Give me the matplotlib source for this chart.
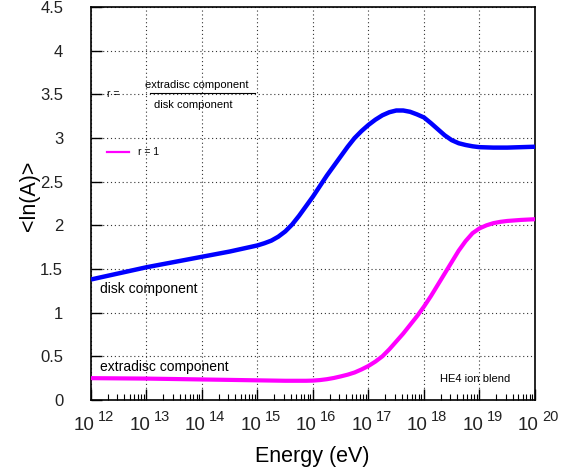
import matplotlib
matplotlib.use("Agg")
import matplotlib.pyplot as plt
import numpy as np
from matplotlib.ticker import LogLocator, MultipleLocator, NullFormatter, FuncFormatter

plt.rcParams['font.family'] = ['Liberation Sans', 'DejaVu Sans']

# mean log mass vs log10(E/eV)
disk_logE = [12.0, 12.5, 13.0, 13.5, 14.0, 14.5, 14.75, 15.0, 15.125, 15.25,
             15.375, 15.5, 15.625, 15.75, 15.875, 16.0, 16.125, 16.25, 16.375,
             16.5, 16.625, 16.75, 16.875, 17.0, 17.125, 17.25, 17.375, 17.5,
             17.625, 17.75, 17.875, 18.0, 18.125, 18.25, 18.375, 18.5, 18.625,
             18.75, 18.875, 19.0, 19.25, 19.5, 19.75, 20.0]
disk_lnA = [1.38, 1.45, 1.52, 1.58, 1.64, 1.70, 1.735, 1.77, 1.795, 1.825,
            1.87, 1.93, 2.01, 2.11, 2.22, 2.33, 2.45, 2.57, 2.68,
            2.79, 2.90, 3.00, 3.08, 3.15, 3.21, 3.26, 3.295, 3.315,
            3.315, 3.30, 3.27, 3.235, 3.17, 3.10, 3.03, 2.975, 2.94,
            2.92, 2.905, 2.895, 2.89, 2.89, 2.895, 2.90]

extra_logE = [12.0, 13.0, 14.0, 15.0, 15.5, 15.875, 16.0, 16.125, 16.25, 16.375,
              16.5, 16.625, 16.75, 16.875, 17.0, 17.125, 17.25, 17.375, 17.5,
              17.625, 17.75, 17.875, 18.0, 18.125, 18.25, 18.375, 18.5, 18.625,
              18.75, 18.875, 19.0, 19.125, 19.25, 19.375, 19.5, 19.75, 20.0]
extra_lnA = [0.25, 0.245, 0.235, 0.225, 0.22, 0.22, 0.222, 0.228, 0.238, 0.252,
             0.27, 0.29, 0.315, 0.35, 0.39, 0.44, 0.50, 0.58, 0.67,
             0.76, 0.86, 0.96, 1.07, 1.19, 1.32, 1.45, 1.58, 1.71,
             1.82, 1.91, 1.965, 2.00, 2.025, 2.04, 2.05, 2.062, 2.07]

decades = list(range(12, 21))

fig = plt.figure(figsize=(5.68, 4.67), dpi=100)
ax = fig.add_axes([0.1602, 0.1435, 0.7817, 0.8415])

ax.plot(10.0 ** np.array(disk_logE), disk_lnA, color='#0000ff', lw=3.2,
        solid_capstyle='butt', solid_joinstyle='round', zorder=3)
ax.plot(10.0 ** np.array(extra_logE), extra_lnA, color='#ff00ff', lw=3.0,
        solid_capstyle='butt', solid_joinstyle='round', zorder=3)

ax.set_xscale('log')
ax.set_xlim(1e12, 1e20)
ax.set_ylim(0, 4.5)
ax.set_xticks([10.0 ** k for k in decades])
ax.xaxis.set_major_formatter(NullFormatter())
ax.xaxis.set_minor_locator(LogLocator(base=10, subs=np.arange(2, 10), numticks=100))
ax.xaxis.set_minor_formatter(NullFormatter())
ax.yaxis.set_major_locator(MultipleLocator(0.5))
ax.yaxis.set_major_formatter(FuncFormatter(lambda v, p: f"{v:g}"))

# decade labels: "10" left of the tick, exponent raised to its right
for k in decades:
    ax.annotate('10', xy=(10.0 ** k, 0), xycoords=('data', 'axes fraction'),
                xytext=(4, -30), textcoords='offset pixels', ha='right',
                va='baseline', fontsize=13.5, color='#222222')
    ax.annotate(str(k), xy=(10.0 ** k, 0), xycoords=('data', 'axes fraction'),
                xytext=(7, -10), textcoords='offset pixels', ha='left',
                va='top', fontsize=10.5, color='#222222')

ax.grid(True, which='major', color='0.2', linestyle=(0, (1, 2.5)), lw=0.8)
ax.tick_params(axis='both', which='major', direction='in', length=8, width=1,
               top=False, right=False)
ax.tick_params(axis='x', which='minor', direction='in', length=4, width=0.8, top=False)
ax.tick_params(axis='y', labelsize=12, pad=20, labelcolor='#222222')
for s in ax.spines.values():
    s.set_linewidth(1.2)

ax.set_xlabel('Energy (eV)', fontsize=15.5)
ax.xaxis.set_label_coords(0.498, -0.117)
ax.set_ylabel('<ln(A)>', fontsize=15.5)
ax.yaxis.set_label_coords(-0.114, 0.52)

ax.text(10 ** 12.16, 1.27, 'disk component', fontsize=10, va='center', ha='left')
ax.text(10 ** 12.16, 0.38, 'extradisc component', fontsize=10, va='center', ha='left')
ax.text(10 ** 18.29, 0.24, 'HE4 ion blend', fontsize=8, va='center', ha='left')

# ratio definition and legend entry
ax.text(10 ** 12.29, 3.505, 'r =', fontsize=7.5, va='center', ha='left')
ax.text(10 ** 13.91, 3.61, 'extradisc component', fontsize=8, va='center', ha='center')
ax.plot([10 ** 13.06, 10 ** 14.95], [3.52, 3.52], color='k', lw=0.8)
ax.text(10 ** 13.84, 3.38, 'disk component', fontsize=8, va='center', ha='center')
ax.plot([10 ** 12.29, 10 ** 12.68], [2.84, 2.84], color='#ff00ff', lw=1.6)
ax.text(10 ** 12.85, 2.84, 'r = 1', fontsize=7.5, va='center', ha='left')

fig.savefig('out.png', dpi=100)
